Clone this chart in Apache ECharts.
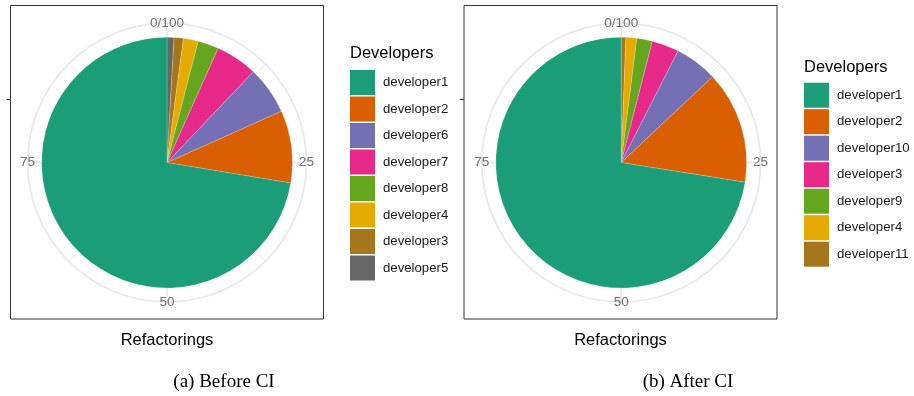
<!DOCTYPE html>
<html>
<head>
<meta charset="utf-8">
<title>Refactorings by developer</title>
<script src="https://cdn.jsdelivr.net/npm/echarts@6/dist/echarts.min.js"></script>
<style>
  html, body { margin: 0; padding: 0; background: #ffffff; }
  #chart { width: 914px; height: 396px; }
</style>
</head>
<body>
<div id="chart"></div>
<script>
// Share of refactorings (%) per developer, listed in legend order.
const beforeNames  = ['developer1', 'developer2', 'developer6', 'developer7', 'developer8', 'developer4', 'developer3', 'developer5'];
const beforeShares = [72.4, 9.3, 6.2, 5.4, 2.7, 1.9, 1.2, 0.9];
const beforeColors = ['#1B9E77', '#D95F02', '#7570B3', '#E7298A', '#66A61E', '#E6AB02', '#A6761D', '#666666'];

const afterNames  = ['developer1', 'developer2', 'developer10', 'developer3', 'developer9', 'developer4', 'developer11'];
const afterShares = [72.5, 14.5, 5.5, 3.5, 2.0, 1.4, 0.6];
const afterColors = ['#1B9E77', '#D95F02', '#7570B3', '#E7298A', '#66A61E', '#E6AB02', '#A6761D'];

// Angular axis ticks (percent of the whole)
const tickValues = [0, 25, 50, 75];
const tickLabels = ['0/100', '25', '50', '75'];

const SANS = 'Liberation Sans, Arial, sans-serif';
const GRID_COLOR = '#E9E9E9';

// Layout of the two sub-figures
const layout = [
  { names: beforeNames, shares: beforeShares, colors: beforeColors,
    cx: 167, cy: 162.6, frameLeft: 10.5, legendLeft: 350, legendTop: 70, titleTop: 44.5,
    caption: '(a) Before CI', captionX: 224 },
  { names: afterNames, shares: afterShares, colors: afterColors,
    cx: 621.2, cy: 162.6, frameLeft: 464, legendLeft: 804, legendTop: 82.7, titleTop: 58.5,
    caption: '(b) After CI', captionX: 688 }
];

const PIE_R = 125.4;   // radius of the stacked bar (the pie)
const RING_R = 139.4;  // outer grid circle

const option = {
  animation: false,
  textStyle: { fontFamily: SANS },
  polar: [], angleAxis: [], radiusAxis: [],
  grid: [], xAxis: [], yAxis: [],
  legend: [], title: [], series: []
};

layout.forEach((p, k) => {
  const barPolar = k * 2;
  const ringPolar = k * 2 + 1;

  // Polar system holding the stacked bar
  option.polar.push({ center: [p.cx, p.cy], radius: PIE_R });
  option.angleAxis.push({
    polarIndex: barPolar, type: 'value', min: 0, max: 100,
    startAngle: 90, clockwise: true, show: false
  });
  option.radiusAxis.push({
    polarIndex: barPolar, type: 'category', data: [''], show: false
  });

  // Polar system for the angular grid (ring, radial lines, tick labels)
  option.polar.push({ center: [p.cx, p.cy], radius: RING_R });
  option.angleAxis.push({
    polarIndex: ringPolar, type: 'value', min: 0, max: 100, interval: 25,
    startAngle: 90, clockwise: true,
    axisLine: { show: true, lineStyle: { color: GRID_COLOR, width: 1.8 } },
    axisTick: { show: false },
    axisLabel: { show: false },
    splitLine: { show: true, lineStyle: { color: GRID_COLOR, width: 1.8 } },
    minorTick: { show: false, splitNumber: 2 },
    minorSplitLine: { show: true, lineStyle: { color: GRID_COLOR, width: 1 } }
  });
  option.radiusAxis.push({
    polarIndex: ringPolar, type: 'value', min: 0, max: 1, show: false
  });

  // Tick labels sit centred on the outer ring
  option.series.push({
    type: 'scatter', coordinateSystem: 'polar', polarIndex: ringPolar,
    symbolSize: 0, silent: true, z: 10,
    data: tickValues.map((v, i) => ({ value: [1, v], name: tickLabels[i] })),
    label: {
      show: true, position: 'inside', formatter: '{b}',
      color: '#4D4D4D', fontSize: 13.6, fontFamily: SANS
    }
  });

  // Stacked slices: the last legend entry starts at 0 and runs clockwise
  for (let i = p.names.length - 1; i >= 0; i--) {
    option.series.push({
      type: 'bar', coordinateSystem: 'polar', polarIndex: barPolar,
      name: p.names[i], stack: 'share' + k,
      barCategoryGap: '0%', silent: true,
      itemStyle: { color: p.colors[i], borderColor: 'rgba(255,255,255,0.5)', borderWidth: 0.4 },
      data: [p.shares[i]]
    });
  }

  // Panel frame, x-axis title and radial-axis tick
  option.grid.push({
    left: p.frameLeft, top: 5.5, width: 313, height: 313.5,
    show: true, borderColor: '#333333', borderWidth: 1, backgroundColor: 'transparent'
  });
  option.xAxis.push({
    gridIndex: k, type: 'value', min: 0, max: 1,
    axisLine: { show: false }, axisTick: { show: false },
    axisLabel: { show: false }, splitLine: { show: false },
    name: 'Refactorings', nameLocation: 'middle', nameGap: 13,
    nameTextStyle: { color: '#000000', fontSize: 16.5, fontFamily: SANS }
  });
  option.yAxis.push({
    gridIndex: k, type: 'value', min: -1.25, max: 1.25,
    axisLine: { show: false },
    axisTick: { show: true, length: 4, customValues: [0.5],
      lineStyle: { color: '#333333', width: 1.1 } },
    axisLabel: { show: false }, splitLine: { show: false }
  });

  // Legend with its title
  option.title.push({
    text: 'Developers', left: p.legendLeft, top: p.titleTop, padding: 0,
    textStyle: { fontFamily: SANS, fontSize: 16.5, fontWeight: 'normal', color: '#000000' }
  });
  option.legend.push({
    orient: 'vertical', left: p.legendLeft, top: p.legendTop, padding: 0,
    icon: 'rect', itemWidth: 25, itemHeight: 25, itemGap: 1.5,
    selectedMode: false,
    textStyle: { fontFamily: SANS, fontSize: 13.2, color: '#1A1A1A', padding: [0, 0, 0, 3] },
    data: p.names.map((n, i) => ({ name: n, itemStyle: { color: p.colors[i], borderWidth: 0 } }))
  });

  // Sub-figure caption
  option.title.push({
    text: p.caption, left: p.captionX, top: 372.5, textAlign: 'center', padding: 0,
    textStyle: { fontFamily: 'Liberation Serif, Times New Roman, serif', fontSize: 19,
      fontWeight: 'normal', color: '#000000' }
  });
});

const chart = echarts.init(document.getElementById('chart'), null, { renderer: 'canvas' });
chart.setOption(option);
</script>
</body>
</html>
